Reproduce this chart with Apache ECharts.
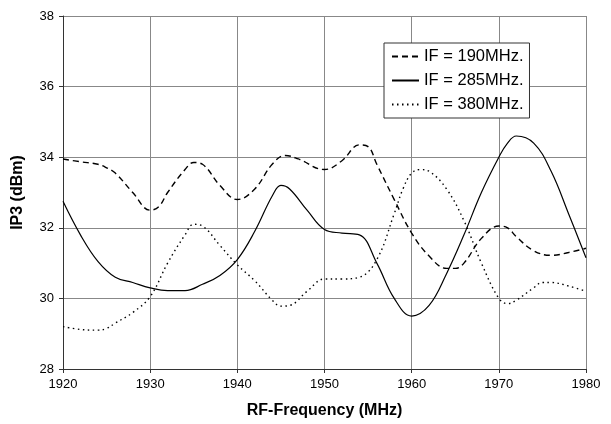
<!DOCTYPE html>
<html>
<head>
<meta charset="utf-8">
<script src="https://cdn.jsdelivr.net/npm/echarts@6/dist/echarts.min.js"></script>
<style>
  html, body { margin: 0; padding: 0; background: #fff; }
  #chart { width: 611px; height: 424px; }
</style>
</head>
<body>
<div id="chart"></div>
<script>
// 数据：频率 (MHz) 与 IP3 (dBm)
var freq190 = [1920, 1922, 1924, 1925, 1926, 1928, 1930, 1931, 1932, 1934, 1935, 1936, 1938, 1940, 1942, 1944, 1945.5, 1947, 1950, 1952, 1954, 1955, 1956, 1958, 1960, 1962, 1964, 1965, 1966, 1968, 1970, 1971, 1972, 1974, 1976, 1978, 1980];
var ip3190 = [33.95, 33.87, 33.8, 33.7, 33.55, 33.0, 32.5, 32.6, 33.0, 33.65, 33.85, 33.8, 33.2, 32.8, 33.1, 33.8, 34.05, 33.95, 33.65, 33.9, 34.35, 34.3, 33.8, 32.8, 31.85, 31.2, 30.85, 30.85, 31.0, 31.7, 32.05, 32.0, 31.75, 31.35, 31.22, 31.3, 31.42];

var freq285 = [1920, 1922, 1924, 1926, 1928, 1930, 1932, 1934, 1936, 1938, 1940, 1942, 1944, 1945, 1946, 1948, 1950, 1952, 1954, 1956, 1958, 1960, 1962, 1964, 1966, 1968, 1970, 1971, 1972, 1974, 1976, 1978, 1980];
var ip3285 = [32.75, 31.8, 31.05, 30.6, 30.45, 30.3, 30.22, 30.22, 30.4, 30.65, 31.1, 31.9, 32.9, 33.2, 33.1, 32.5, 31.95, 31.85, 31.8, 31.0, 30.0, 29.5, 29.8, 30.7, 31.8, 33.0, 34.0, 34.4, 34.6, 34.4, 33.6, 32.4, 31.15];

var freq380 = [1920, 1922, 1924, 1925, 1926, 1928, 1930, 1932, 1934, 1935, 1936, 1938, 1940, 1942, 1944, 1945, 1946, 1948, 1950, 1952, 1954, 1956, 1958, 1959, 1960, 1961, 1962, 1964, 1966, 1968, 1970, 1971, 1972, 1974, 1975, 1976, 1978, 1980];
var ip3380 = [29.2, 29.12, 29.1, 29.15, 29.3, 29.6, 30.05, 31.0, 31.8, 32.1, 32.05, 31.5, 30.95, 30.5, 29.95, 29.78, 29.8, 30.2, 30.55, 30.55, 30.6, 31.1, 32.4, 33.1, 33.55, 33.65, 33.6, 33.1, 32.2, 31.0, 30.0, 29.85, 29.95, 30.3, 30.45, 30.45, 30.35, 30.2];

var seriesNames = ['IF = 190MHz.', 'IF = 285MHz.', 'IF = 380MHz.'];

function pairs(xs, ys) {
    return xs.map(function (x, i) { return [x, ys[i]]; });
}

var chart = echarts.init(document.getElementById('chart'));

var option = {
    animation: false,
    textStyle: { fontFamily: 'Liberation Sans, Arial, sans-serif', color: '#000' },
    grid: { left: 63, right: 25, top: 16, bottom: 53 },
    legend: {
        orient: 'vertical',
        left: 384,
        top: 43,
        data: seriesNames,
        backgroundColor: '#fff',
        borderColor: '#333',
        borderWidth: 1,
        padding: [5, 6, 5, 7],
        itemWidth: 27,
        itemHeight: 10,
        itemGap: 7,
        itemStyle: { opacity: 0 },
        textStyle: { fontSize: 16.5, color: '#000', fontFamily: 'Liberation Sans, Arial, sans-serif' }
    },
    xAxis: {
        type: 'value',
        min: 1920,
        max: 1980,
        interval: 10,
        name: 'RF-Frequency (MHz)',
        nameLocation: 'middle',
        nameGap: 34,
        nameTextStyle: { fontSize: 16, fontWeight: 'bold', color: '#000' },
        axisLine: { lineStyle: { color: '#333', width: 1 } },
        axisTick: { show: true, length: 4, lineStyle: { color: '#333' } },
        axisLabel: { fontSize: 13, color: '#000', margin: 9, formatter: function (v) { return String(v); } },
        splitLine: { show: true, lineStyle: { color: '#888', width: 1 } }
    },
    yAxis: {
        type: 'value',
        min: 28,
        max: 38,
        interval: 2,
        name: 'IP3 (dBm)',
        nameLocation: 'middle',
        nameGap: 37,
        nameTextStyle: { fontSize: 16, fontWeight: 'bold', color: '#000' },
        axisLine: { show: true, lineStyle: { color: '#333', width: 1 } },
        axisTick: { show: true, length: 4, lineStyle: { color: '#333' } },
        axisLabel: { fontSize: 13, color: '#000', margin: 9 },
        splitLine: { show: true, lineStyle: { color: '#888', width: 1 } }
    },
    series: [
        {
            name: seriesNames[0],
            type: 'line',
            smooth: 0.4,
            symbol: 'none',
            data: pairs(freq190, ip3190),
            itemStyle: { color: '#000' },
            lineStyle: { color: '#000', width: 1.4, type: [6, 4] }
        },
        {
            name: seriesNames[1],
            type: 'line',
            smooth: 0.4,
            symbol: 'none',
            data: pairs(freq285, ip3285),
            itemStyle: { color: '#000' },
            lineStyle: { color: '#000', width: 1.2, type: 'solid' }
        },
        {
            name: seriesNames[2],
            type: 'line',
            smooth: 0.4,
            symbol: 'none',
            data: pairs(freq380, ip3380),
            itemStyle: { color: '#000' },
            lineStyle: { color: '#000', width: 1.4, type: [1.5, 3.5] }
        }
    ]
};

chart.setOption(option);
</script>
</body>
</html>
